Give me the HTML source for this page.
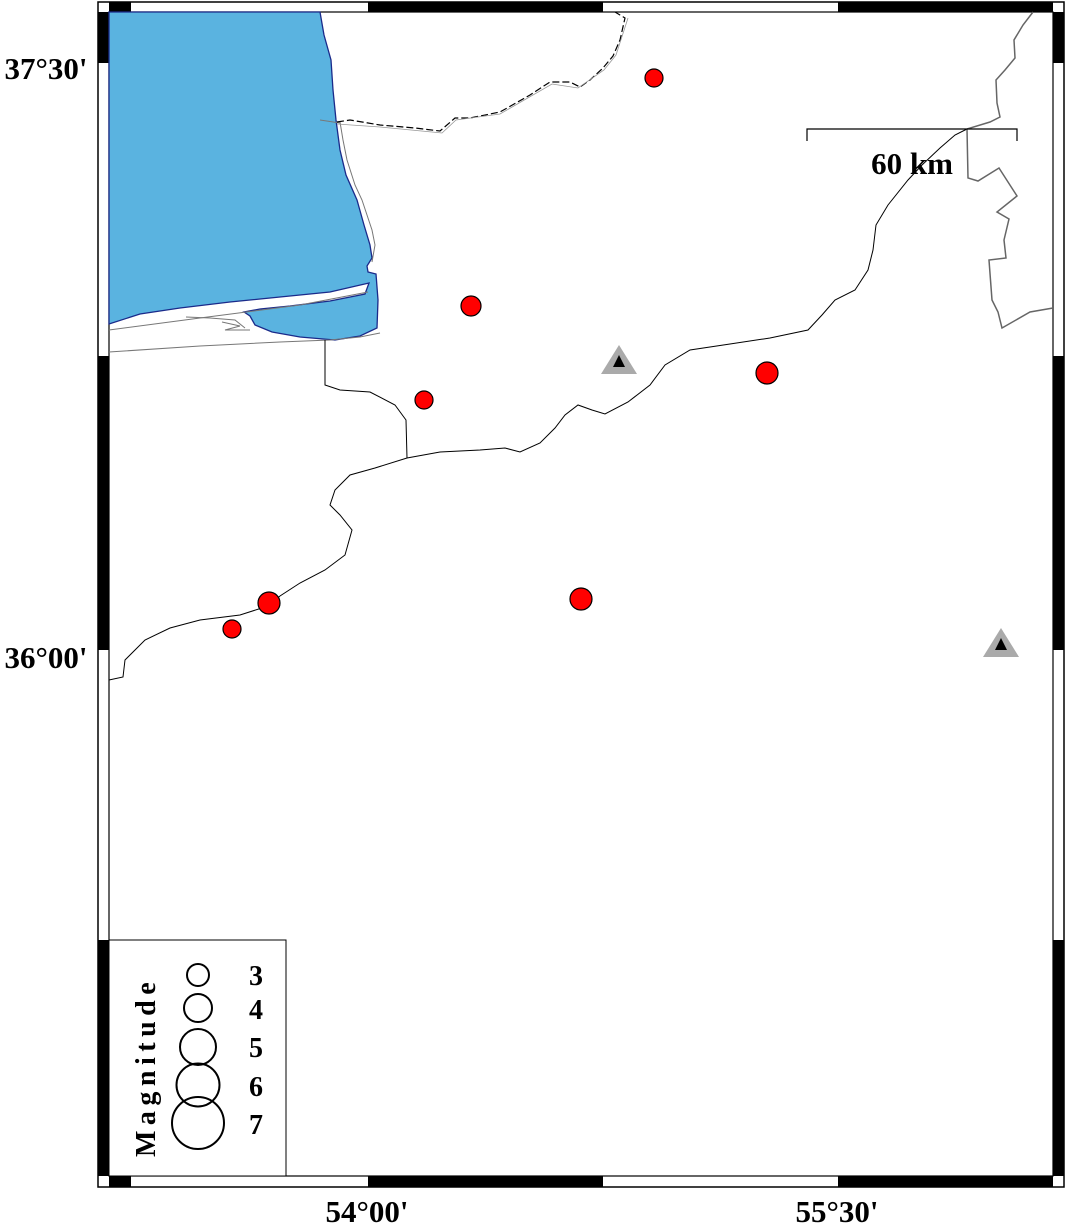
<!DOCTYPE html>
<html><head><meta charset="utf-8"><style>
html,body{margin:0;padding:0;background:#fff;}
svg{display:block;}
text{font-family:"Liberation Serif",serif;font-weight:bold;fill:#000;}
</style></head><body>
<svg width="1066" height="1225" viewBox="0 0 1066 1225" xmlns="http://www.w3.org/2000/svg">
<rect x="98" y="2" width="966" height="1185" fill="#fff" stroke="#000" stroke-width="1.5"/>
<g fill="#000">
<rect x="109" y="2" width="22" height="10"/><rect x="368" y="2" width="235" height="10"/><rect x="838" y="2" width="215" height="10"/>
<rect x="109" y="1176" width="22" height="11"/><rect x="368" y="1176" width="235" height="11"/><rect x="838" y="1176" width="215" height="11"/>
<rect x="98" y="12" width="11" height="51"/><rect x="98" y="356" width="11" height="294"/><rect x="98" y="940" width="11" height="236"/>
<rect x="1053" y="12" width="11" height="51"/><rect x="1053" y="356" width="11" height="294"/><rect x="1053" y="940" width="11" height="236"/>
</g>
<rect x="109" y="12" width="944" height="1164" fill="#fff" stroke="#000" stroke-width="1.2"/>

<path d="M109,12 L320,12 L324,35 L331,60 L333,90 L336,120 L340,150 L346,175 L357,200 L364,225 L370,245 L372,258 L367,266 L368,272 L376,274 L378,300 L377,328 L360,336 L335,340 L300,337 L272,332 L255,325 L250,316 L244,312 L260,309 L290,306 L330,301 L365,294 L369,283 L330,292 L280,297 L230,302 L180,308 L140,314 L109,324 Z" fill="#5ab3e0" stroke="#1a2a8a" stroke-width="1.3"/>
<g fill="none" stroke="#777" stroke-width="1">
<path d="M109,352 L200,346 L280,342 L330,340 L360,337 L380,333"/>
<path d="M109,330 L200,318 L300,305 L368,292"/>
<path d="M186,317 L210,318 L235,320 L245,328"/>
<path d="M222,322 L240,326 L225,330 L250,330"/>
<path d="M340,122 L343,140 L347,160 L355,185 L362,200 L372,230 L375,245 L372,262"/>
<path d="M320,120 L340,123"/>
</g>
<g fill="none" stroke="#000" stroke-width="1">
<path d="M325,340 L325,385 L340,390 L370,392 L395,405 L406,420 L407,458"/>
<path d="M109,680 L123,677 L125,660 L145,640 L170,628 L200,620 L240,615 L268,606 L280,596 L300,583 L325,570 L345,555 L352,530 L340,515 L330,505 L335,490 L350,475 L375,468 L407,458 L440,452 L480,450 L505,448 L520,452 L540,443 L555,428 L565,415 L578,405 L592,410 L605,414 L628,402 L650,385 L665,365 L690,350 L730,344 L770,338 L808,330 L822,315 L835,300 L855,290 L868,270 L873,250 L876,225 L888,205 L908,180 L922,165 L940,148 L955,135 L967,129"/>
<path d="M967,129 L990,122 L1000,117 L997,103 L996,80 L1005,70 L1015,58 L1014,40 L1023,25 L1033,12" stroke="#666" stroke-width="1.5"/>
<path d="M967,129 L968,178 L978,181 L999,168 L1017,196 L997,212 L1009,219 L1004,240 L1006,258 L989,260 L992,300 L998,312 L1002,328 L1030,312 L1053,308" stroke="#666" stroke-width="1.5"/>
</g>
<path d="M337,122 L350,120 L380,125 L415,128 L440,131 L455,118 L470,118 L500,112 L530,95 L550,82 L570,82 L580,87 L590,80 L603,68 L613,56 L620,40 L625,18 L615,12" fill="none" stroke="#000" stroke-width="1.2" stroke-dasharray="7,3"/>
<path d="M337,124 L380,127 L442,133 L456,120 L500,114 L552,84 L578,88 L604,70 L616,55 L628,18" fill="none" stroke="#999" stroke-width="0.8"/>

<g fill="#ff0000" stroke="#000" stroke-width="1.2">
<circle cx="654" cy="78" r="9"/>
<circle cx="471" cy="306" r="10"/>
<circle cx="424" cy="400" r="9"/>
<circle cx="767" cy="373" r="11"/>
<circle cx="269" cy="603" r="11"/>
<circle cx="581" cy="599" r="11"/>
<circle cx="232" cy="629" r="9"/>
</g>
<polygon points="619,345 637,374 601,374" fill="#aaa"/>
<polygon points="619,355 625,367 613,367" fill="#000"/>
<polygon points="1001,628 1019,657 983,657" fill="#aaa"/>
<polygon points="1001,638 1007,650 995,650" fill="#000"/>

<path d="M807,141 L807,129 L1017,129 L1017,141" fill="none" stroke="#000" stroke-width="1.2"/>
<text x="912" y="174" font-size="31" text-anchor="middle">60 km</text>

<text x="46" y="79" font-size="31" text-anchor="middle">37°30'</text>
<text x="46" y="668" font-size="31" text-anchor="middle">36°00'</text>
<text x="367" y="1222" font-size="31" text-anchor="middle">54°00'</text>
<text x="837" y="1222" font-size="31" text-anchor="middle">55°30'</text>

<rect x="109" y="940" width="177" height="236" fill="#fff" stroke="#000" stroke-width="1"/>
<g fill="none" stroke="#000" stroke-width="2">
<circle cx="198" cy="975" r="11"/>
<circle cx="198" cy="1008" r="14"/>
<circle cx="198" cy="1047" r="18"/>
<circle cx="198" cy="1085" r="21.5"/>
<circle cx="198" cy="1123" r="26"/>
</g>
<g font-size="28">
<text x="249" y="985">3</text>
<text x="249" y="1019">4</text>
<text x="249" y="1057">5</text>
<text x="249" y="1096">6</text>
<text x="249" y="1134">7</text>
</g>
<text transform="translate(155,1157) rotate(-90)" font-size="28" letter-spacing="5.5">Magnitude</text>
</svg>
</body></html>
